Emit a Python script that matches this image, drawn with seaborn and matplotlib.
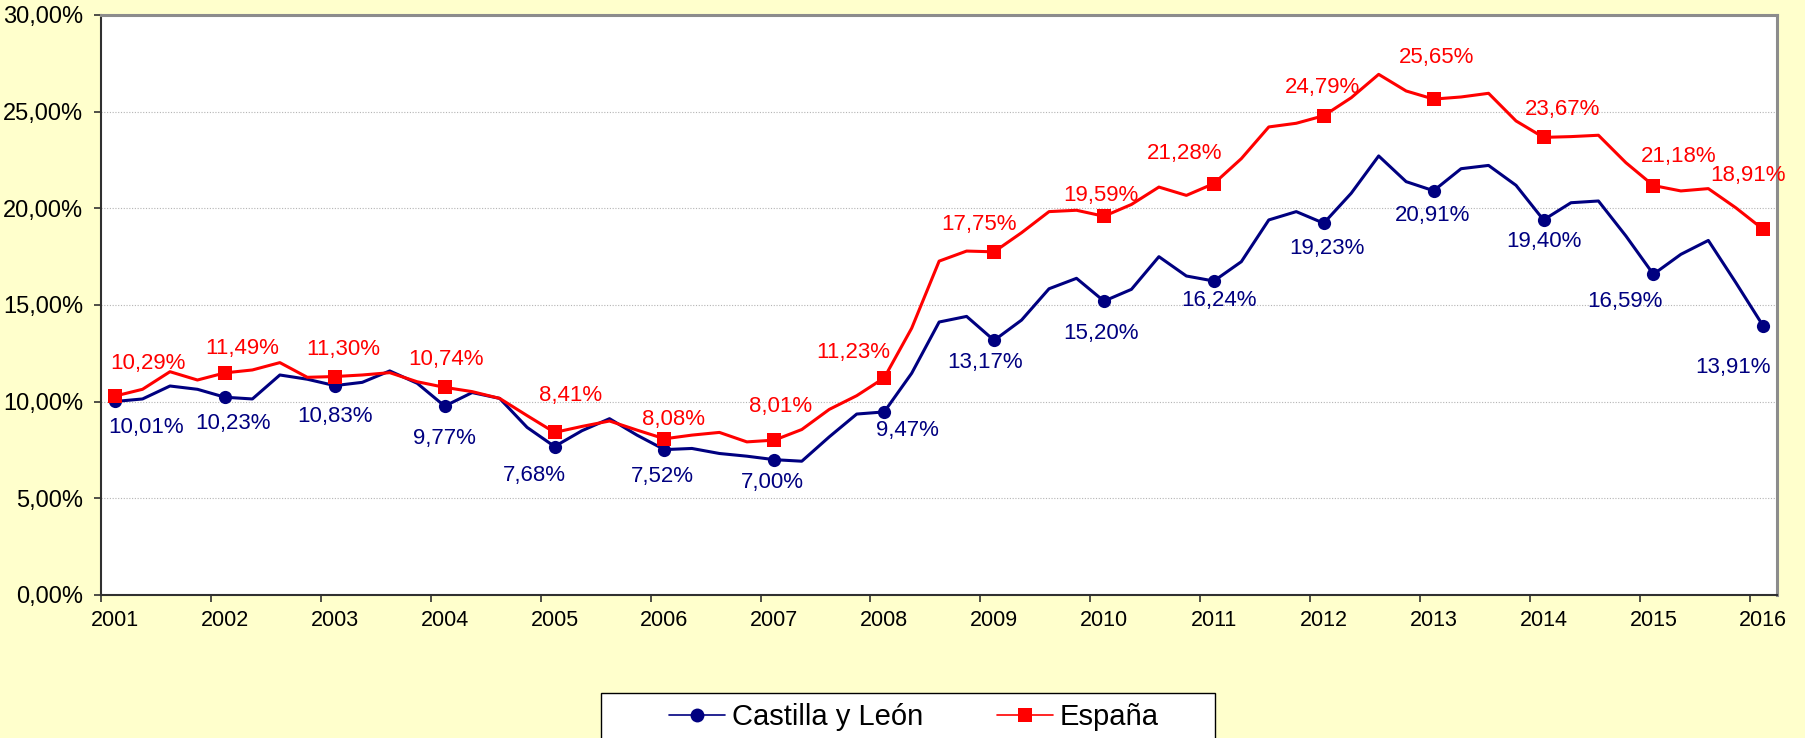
import numpy as np
import pandas as pd
import matplotlib
matplotlib.use("Agg")
import matplotlib.pyplot as plt
import seaborn as sns
from matplotlib import font_manager
from matplotlib.lines import Line2D
from matplotlib.patches import Rectangle
from matplotlib.ticker import FuncFormatter


# Data: quarterly unemployment rate (%), 2001 Q1 .. 2016 Q1
years = [str(y) for y in range(2001, 2017)]

castilla = [
    10.01, 10.14, 10.81, 10.64,
    10.23, 10.14, 11.38, 11.16,
    10.83, 11.00, 11.59, 10.95,
    9.77, 10.47, 10.17, 8.67,
    7.68, 8.50, 9.12, 8.27,
    7.52, 7.58, 7.32, 7.18,
    7.00, 6.92, 8.18, 9.36,
    9.47, 11.47, 14.12, 14.41,
    13.17, 14.22, 15.84, 16.38,
    15.20, 15.81, 17.50, 16.50,
    16.24, 17.24, 19.40, 19.83,
    19.23, 20.78, 22.71, 21.38,
    20.91, 22.05, 22.22, 21.19,
    19.40, 20.29, 20.38, 18.57,
    16.59, 17.62, 18.34, 16.16,
    13.91,
]

espana = [
    10.29, 10.64, 11.55, 11.12,
    11.49, 11.64, 12.02, 11.26,
    11.30, 11.38, 11.50, 11.03,
    10.74, 10.52, 10.17, 9.28,
    8.41, 8.72, 9.00, 8.53,
    8.08, 8.27, 8.41, 7.92,
    8.01, 8.56, 9.60, 10.31,
    11.23, 13.80, 17.27, 17.79,
    17.75, 18.74, 19.83, 19.90,
    19.59, 20.20, 21.10, 20.67,
    21.28, 22.57, 24.21, 24.40,
    24.79, 25.72, 26.93, 26.07,
    25.65, 25.76, 25.95, 24.52,
    23.67, 23.71, 23.78, 22.36,
    21.18, 20.90, 21.02, 20.03,
    18.91,
]

series_names = ["Castilla y León", "España"]

# label offsets (pixels) for the first-quarter value labels
offs_esp = [(33, 33), (17, 24), (8, 27), (1, 28), (16, 37), (9, 19), (6, 34), (-31, 25),
            (-15, 27), (-3, 21), (-29, 30), (-1, 28), (3, 42), (19, 28), (25, 29), (-15, 54)]
offs_cyl = [(31, -26), (8, -26), (0, -31), (0, -32), (-20, -29), (-2, -27), (-2, -23), (23, -19),
            (-9, -22), (-3, -32), (5, -19), (3, -25), (-1, -25), (0, -22), (-28, -27), (-30, -41)]

NAVY = "#000080"
RED = "#ff0000"
BG = "#ffffcc"


def pct(v):
    return f"{v:.2f}%".replace(".", ",")


sns.set_theme(style="white")
plt.rcParams["font.family"] = ["Liberation Sans", "DejaVu Sans"]
plt.rcParams["text.color"] = "black"

W, H = 1805, 738
fig = plt.figure(figsize=(W / 100, H / 100), dpi=100, facecolor=BG)
ax = fig.add_axes([101.3 / W, 1 - 595 / H, (1777 - 101.3) / W, (595 - 15) / H])
ax.set_facecolor("white")

df = pd.DataFrame({"q": np.arange(len(castilla)), "cyl": castilla, "esp": espana})

sns.lineplot(data=df, x="q", y="cyl", ax=ax, color=NAVY, lw=2.2, marker="o",
             markevery=4, markersize=9.5, markeredgewidth=0, markeredgecolor=NAVY, zorder=3)
sns.lineplot(data=df, x="q", y="esp", ax=ax, color=RED, lw=2.2, marker="s",
             markevery=4, markersize=9.5, markeredgewidth=0, markeredgecolor=RED, zorder=4)

# value labels on first quarter of every year
for i, k in enumerate(range(0, len(castilla), 4)):
    dx, dy = offs_esp[i]
    ax.annotate(pct(espana[k]), (k, espana[k]), xytext=(dx, dy), textcoords="offset pixels",
                ha="center", va="center", fontsize=16, color=RED, zorder=5)
    dx, dy = offs_cyl[i]
    ax.annotate(pct(castilla[k]), (k, castilla[k]), xytext=(dx, dy), textcoords="offset pixels",
                ha="center", va="center", fontsize=16, color=NAVY, zorder=5)

ax.set_xlim(-0.5, len(castilla) - 0.5)
ax.set_ylim(0, 30)
ax.set_xlabel("")
ax.set_ylabel("")

ax.set_xticks(np.arange(0, len(castilla), 4))
ax.set_xticklabels(years)
ax.set_xticks(np.arange(-0.5, len(castilla) - 1, 4), minor=True)
ax.tick_params(axis="x", which="major", length=0, pad=11, labelsize=15.5, colors="black")
ax.tick_params(axis="x", which="minor", length=5, width=1.2, direction="out", color="#303030", bottom=True)

ax.set_yticks(np.arange(0, 31, 5))
ax.yaxis.set_major_formatter(FuncFormatter(lambda v, p: pct(v)))
ax.tick_params(axis="y", length=5, width=1.2, direction="out", color="#303030", pad=8,
               labelsize=17, left=True, labelcolor="black")

ax.yaxis.grid(True, linestyle=(0, (1, 1.5)), color="#b4b4b4", lw=0.8)
ax.xaxis.grid(False)

for s in ["left", "bottom"]:
    ax.spines[s].set_color("#303030")
    ax.spines[s].set_linewidth(1.5)
for s in ["top", "right"]:
    ax.spines[s].set_color("#8c8c8c")
    ax.spines[s].set_linewidth(2.2)

if ax.get_legend() is not None:
    ax.get_legend().remove()

# legend with a box running past the bottom edge
names = {f.name for f in font_manager.fontManager.ttflist}
if "Liberation Sans Narrow" in names:
    lfam, lsize = "Liberation Sans Narrow", 25
else:
    lfam, lsize = "Liberation Sans", 21
em = lsize / 0.72

fig.patches.append(Rectangle((601 / W, -0.05), (1215 - 601) / W, 0.05 + 1 - 693 / H,
                             transform=fig.transFigure, facecolor="white",
                             edgecolor="black", lw=1, zorder=1))

handles = [
    Line2D([], [], color=NAVY, lw=1.2, marker="o", markersize=10, markeredgewidth=0),
    Line2D([], [], color=RED, lw=1.2, marker="s", markersize=10, markeredgewidth=0),
]
fig.legend(handles, series_names, loc="center", bbox_to_anchor=(914 / W, 1 - 717 / H),
           ncol=2, frameon=False, prop={"family": lfam, "size": lsize}, labelcolor="black",
           handlelength=56 / em, handletextpad=7 / em, columnspacing=73 / em,
           borderpad=0, borderaxespad=0)

fig.savefig("out.png", dpi=100, facecolor=BG)
